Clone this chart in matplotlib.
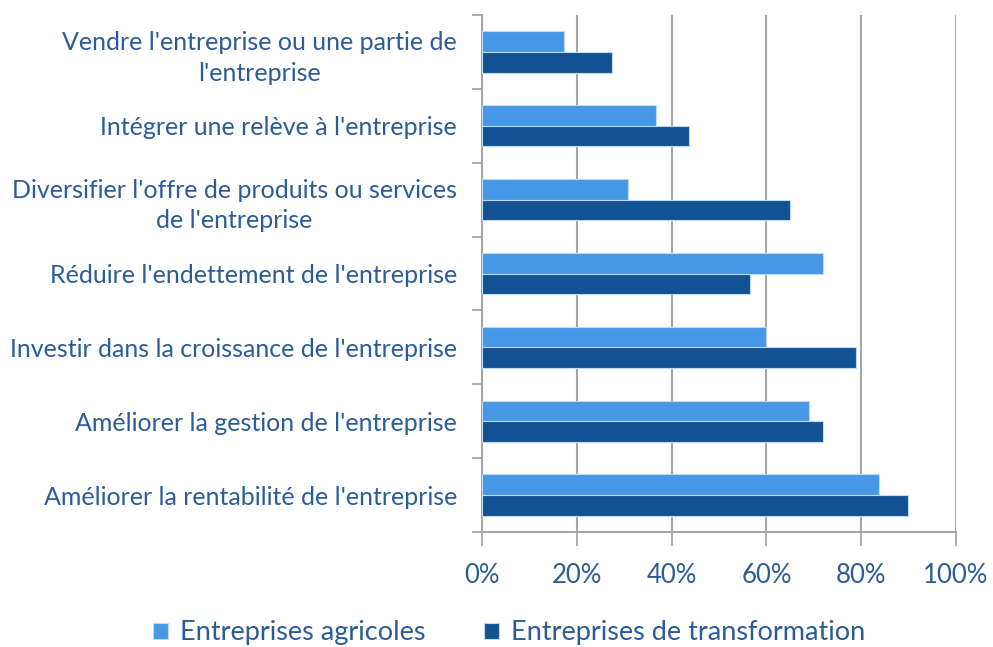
import matplotlib
matplotlib.use("Agg")
import matplotlib.pyplot as plt
from matplotlib.ticker import FixedLocator, PercentFormatter
import numpy as np

# categories, top to bottom as in the chart
categories = [
    "Vendre l'entreprise ou une partie de\nl'entreprise",
    "Intégrer une relève à l'entreprise",
    "Diversifier l'offre de produits ou services\nde l'entreprise",
    "Réduire l'endettement de l'entreprise",
    "Investir dans la croissance de l'entreprise",
    "Améliorer la gestion de l'entreprise",
    "Améliorer la rentabilité de l'entreprise",
]
agricoles = [17.4, 36.8, 30.7, 72, 60, 69, 83.8]
transformation = [27.4, 43.7, 65, 56.5, 79, 72, 89.8]
series_names = ["Entreprises agricoles", "Entreprises de transformation"]

light = "#4698E6"
dark = "#125292"
text_col = "#2B5C98"
grid_col = "#A6A6A6"

plt.rcParams["font.family"] = ["Lato", "DejaVu Sans"]

fig = plt.figure(figsize=(9.93, 6.47), dpi=100)
ax = fig.add_axes([0.4854, 0.1777, 0.4773, 0.7991])

y = np.arange(len(categories))
h = 0.28
ax.barh(y - h / 2, agricoles, height=h, color=light, edgecolor="#BFD9F5",
        linewidth=0.8, label=series_names[0], zorder=3)
ax.barh(y + h / 2, transformation, height=h, color=dark, edgecolor="#BFD9F5",
        linewidth=0.8, label=series_names[1], zorder=3)

ax.set_ylim(len(categories) - 0.5, -0.5)
ax.set_xlim(0, 100)

ax.set_yticks(y)
ax.set_yticklabels(categories, fontsize=18, color=text_col, ha="right",
                   multialignment="center", linespacing=1.4)
ax.yaxis.set_minor_locator(FixedLocator(np.arange(-0.5, len(categories), 1)))
ax.tick_params(axis="y", which="major", length=0, pad=18)
ax.tick_params(axis="y", which="minor", length=7, width=1.3, color=grid_col)

ax.set_xticks(np.arange(0, 101, 20))
ax.xaxis.set_major_formatter(PercentFormatter(decimals=0))
ax.tick_params(axis="x", length=10, width=1.3, color=grid_col, pad=12,
               labelsize=18.5, labelcolor=text_col)

ax.grid(axis="x", color=grid_col, linewidth=1.5, zorder=0)
for s in ["top", "right"]:
    ax.spines[s].set_visible(False)
for s in ["left", "bottom"]:
    ax.spines[s].set_color(grid_col)
    ax.spines[s].set_linewidth(1.5)

leg = fig.legend(loc="center", bbox_to_anchor=(0.5126, 0.022), ncol=2,
                 frameon=False, fontsize=19.5, handlelength=0.55, handleheight=0.55,
                 handletextpad=0.45, columnspacing=2.15)
for t in leg.get_texts():
    t.set_color(text_col)

fig.savefig("out.png", dpi=100)
